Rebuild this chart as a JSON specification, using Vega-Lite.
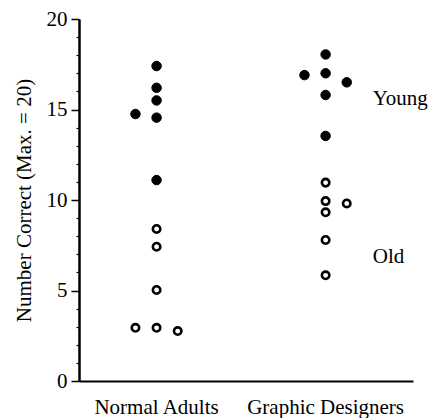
{
  "$schema": "https://vega.github.io/schema/vega-lite/v6.json",
  "width": 334,
  "height": 362,
  "autosize": {"type": "none"},
  "padding": {"left": 79, "top": 19, "right": 18, "bottom": 37},
  "config": {
    "view": {"stroke": null},
    "font": "Liberation Serif",
    "axis": {"labelFont": "Liberation Serif", "titleFont": "Liberation Serif", "labelColor": "black", "titleColor": "black", "domainColor": "black", "tickColor": "black", "grid": false}
  },
  "datasets": {
    "scores": [
      {"group": "Normal Adults", "age": "Young", "col": "center", "value": 17.4},
      {"group": "Normal Adults", "age": "Young", "col": "center", "value": 16.2},
      {"group": "Normal Adults", "age": "Young", "col": "center", "value": 15.5},
      {"group": "Normal Adults", "age": "Young", "col": "left", "value": 14.75},
      {"group": "Normal Adults", "age": "Young", "col": "center", "value": 14.55},
      {"group": "Normal Adults", "age": "Young", "col": "center", "value": 11.1},
      {"group": "Normal Adults", "age": "Old", "col": "center", "value": 8.4},
      {"group": "Normal Adults", "age": "Old", "col": "center", "value": 7.42},
      {"group": "Normal Adults", "age": "Old", "col": "center", "value": 5.03},
      {"group": "Normal Adults", "age": "Old", "col": "left", "value": 2.94},
      {"group": "Normal Adults", "age": "Old", "col": "center", "value": 2.94},
      {"group": "Normal Adults", "age": "Old", "col": "right", "value": 2.76},
      {"group": "Graphic Designers", "age": "Young", "col": "center", "value": 18.04},
      {"group": "Graphic Designers", "age": "Young", "col": "left", "value": 16.9},
      {"group": "Graphic Designers", "age": "Young", "col": "center", "value": 17.0},
      {"group": "Graphic Designers", "age": "Young", "col": "right", "value": 16.5},
      {"group": "Graphic Designers", "age": "Young", "col": "center", "value": 15.8},
      {"group": "Graphic Designers", "age": "Young", "col": "center", "value": 13.54},
      {"group": "Graphic Designers", "age": "Old", "col": "center", "value": 10.96},
      {"group": "Graphic Designers", "age": "Old", "col": "center", "value": 9.94},
      {"group": "Graphic Designers", "age": "Old", "col": "right", "value": 9.81},
      {"group": "Graphic Designers", "age": "Old", "col": "center", "value": 9.32},
      {"group": "Graphic Designers", "age": "Old", "col": "center", "value": 7.79},
      {"group": "Graphic Designers", "age": "Old", "col": "center", "value": 5.84}
    ],
    "labels": [
      {"label": "Young", "group": "Graphic Designers", "value": 15.6},
      {"label": "Old", "group": "Graphic Designers", "value": 6.85}
    ]
  },
  "resolve": {"axis": {"y": "independent"}},
  "layer": [
    {
      "data": {"name": "scores"},
      "mark": {"type": "point", "filled": false, "stroke": "black", "opacity": 1},
      "encoding": {
        "x": {
          "field": "group", "type": "nominal",
          "sort": ["Normal Adults", "Graphic Designers"],
          "scale": {"paddingInner": 0.75, "paddingOuter": 0.363, "align": 0.46},
          "axis": {"title": null, "ticks": false, "labelAngle": 0, "labelFontSize": 21, "labelPadding": 15, "domainWidth": 2}
        },
        "xOffset": {
          "field": "col", "type": "nominal",
          "scale": {"domain": ["left", "center", "right"], "paddingInner": 0, "paddingOuter": 0}
        },
        "y": {
          "field": "value", "type": "quantitative",
          "scale": {"domain": [0, 20], "nice": false},
          "axis": {
            "orient": "left",
            "title": "Number Correct (Max. = 20)",
            "titleFontSize": 21, "titleFontWeight": "normal", "titlePadding": 12,
            "values": [0, 5, 10, 15, 20],
            "labelFontSize": 21, "labelPadding": 4,
            "tickSize": 8,
            "tickWidth": 1.5,
            "domainWidth": 2.5
          }
        },
        "fill": {"field": "age", "type": "nominal", "scale": {"domain": ["Young", "Old"], "range": ["black", "white"]}, "legend": null},
        "size": {"field": "age", "type": "nominal", "scale": {"domain": ["Young", "Old"], "range": [90, 55]}, "legend": null},
        "strokeWidth": {"field": "age", "type": "nominal", "scale": {"domain": ["Young", "Old"], "range": [1, 2.6]}, "legend": null}
      }
    },
    {
      "data": {"name": "labels"},
      "mark": {"type": "text", "align": "left", "baseline": "middle", "fontSize": 21, "dx": 26, "color": "black"},
      "encoding": {
        "x": {"field": "group", "type": "nominal", "sort": ["Normal Adults", "Graphic Designers"]},
        "xOffset": {"datum": "right"},
        "y": {
          "field": "value", "type": "quantitative",
          "axis": {
            "orient": "left", "title": null, "labels": false, "domain": false,
            "values": [1,2,3,4,6,7,8,9,11,12,13,14,16,17,18,19],
            "tickSize": 3, "tickWidth": 1.2
          }
        },
        "text": {"field": "label"}
      }
    }
  ]
}
